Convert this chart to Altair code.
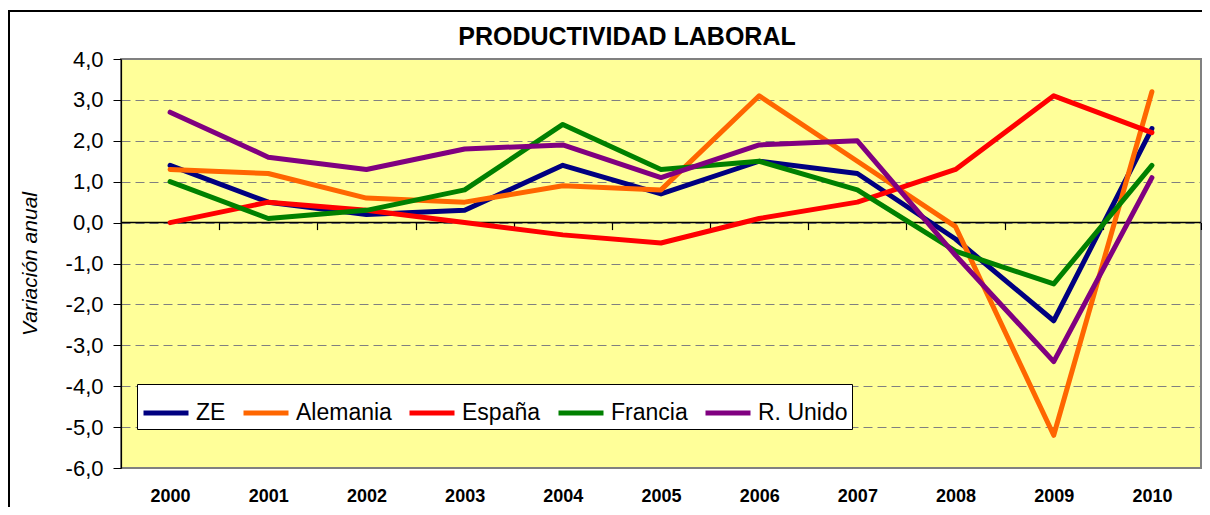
import altair as alt
import pandas as pd

years = ["2000", "2001", "2002", "2003", "2004", "2005", "2006", "2007", "2008", "2009", "2010"]
series = ["ZE", "Alemania", "España", "Francia", "R. Unido"]
colors = ["#000080", "#FF6600", "#FF0000", "#008000", "#800080"]

ze = [1.4, 0.5, 0.2, 0.3, 1.4, 0.7, 1.5, 1.2, -0.4, -2.4, 2.3]
alemania = [1.3, 1.2, 0.6, 0.5, 0.9, 0.8, 3.1, 1.5, -0.1, -5.2, 3.2]
espana = [0.0, 0.5, 0.3, 0.0, -0.3, -0.5, 0.1, 0.5, 1.3, 3.1, 2.2]
francia = [1.0, 0.1, 0.3, 0.8, 2.4, 1.3, 1.5, 0.8, -0.7, -1.5, 1.4]
runido = [2.7, 1.6, 1.3, 1.8, 1.9, 1.1, 1.9, 2.0, -0.8, -3.4, 1.1]

y_ticks = [-6, -5, -4, -3, -2, -1, 0, 1, 2, 3, 4]

values_by_series = [ze, alemania, espana, francia, runido]
rows = []
for s, vals in zip(series, values_by_series):
    for i, v in enumerate(vals):
        rows.append({"idx": i, "year": years[i], "value": v, "serie": s})
df = pd.DataFrame(rows)

n = len(years)
boundaries = [i + 0.5 for i in range(n)]
df_zero = pd.DataFrame({"start": [-0.5], "end": [n - 0.5], "y": [0]})

W, H = 1080, 409
FONT = "Liberation Sans"

xscale = alt.Scale(domain=[-0.5, n - 0.5], nice=False, zero=False)
yscale = alt.Scale(domain=[y_ticks[0], y_ticks[-1]], nice=False)

year_expr = "[" + ",".join("'%s'" % y for y in years) + "][datum.value]"
ylabel_expr = "(datum.value < 0 ? '-' : '') + replace(format(abs(datum.value), '.1f'), '.', ',')"

y_axis = alt.Axis(values=y_ticks, labelExpr=ylabel_expr, labelFontSize=22,
                  labelColor="black", tickSize=8, tickColor="black",
                  domainColor="black", domainWidth=1.2, grid=True,
                  gridDash=[9, 5], gridColor="#808080", gridWidth=1,
                  labelPadding=10, title="Variación anual",
                  titleFontStyle="italic", titleFontWeight="normal",
                  titleFontSize=21, titleColor="black", titlePadding=25)

# zero line with category-boundary ticks
zero = alt.Chart(df_zero).mark_rule(color="black", strokeWidth=1.5).encode(
    x=alt.X("start:Q", scale=xscale,
            axis=alt.Axis(orient="bottom", offset=-(H * 6 / 10), values=boundaries,
                          labels=False, domain=False, ticks=True, tickColor="black",
                          tickSize=7, tickWidth=1.2, grid=False, title=None)),
    x2="end:Q",
    y=alt.Y("y:Q", scale=yscale, axis=y_axis),
)

lines = alt.Chart(df).mark_line(strokeWidth=5, strokeJoin="round", strokeCap="round").encode(
    x=alt.X("idx:Q", scale=xscale,
            axis=alt.Axis(orient="bottom", values=list(range(n)), labelExpr=year_expr,
                          labelFontWeight="bold", labelFontSize=18, labelColor="black",
                          ticks=False, domain=False, grid=False, labelPadding=19, title=None)),
    y=alt.Y("value:Q", scale=yscale, axis=y_axis),
    color=alt.Color("serie:N", scale=alt.Scale(domain=series, range=colors),
                    sort=series,
                    legend=alt.Legend(orient="none", legendX=16, legendY=325,
                                      direction="horizontal", title=None,
                                      fillColor="white", strokeColor="black",
                                      padding=4, symbolType="stroke", symbolSize=2025,
                                      symbolStrokeWidth=5, labelFontSize=23,
                                      labelColor="black", labelOffset=5,
                                      columnPadding=7, labelFont=FONT)),
    order=alt.Order("idx:Q"),
    detail="serie:N",
)

frame = alt.Chart(df_zero).mark_rect(fillOpacity=0, stroke="black", strokeWidth=2).encode(
    x=alt.value(-112), x2=alt.value(W + 30), y=alt.value(-48), y2=alt.value(H + 60)
)

chart = alt.layer(zero, lines, frame).resolve_axis(x="independent").properties(
    width=W,
    height=H,
    padding={"left": 113, "top": 51, "right": 1, "bottom": 39},
    autosize="none",
    title=alt.Title("PRODUCTIVIDAD LABORAL", fontSize=25, fontWeight="bold",
                    anchor="middle", offset=0, dy=40, dx=-34, color="black", font=FONT),
).configure(font=FONT).configure_view(
    fill="#FFFF99", stroke="#808080", strokeWidth=2
)

chart.save("out.html", embed_options={"renderer": "svg", "actions": False})
